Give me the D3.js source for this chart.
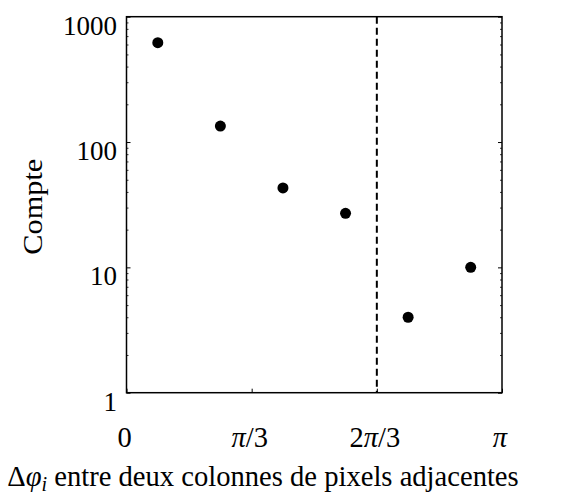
<!DOCTYPE html>
<html>
<head>
<meta charset="utf-8">
<script src="https://cdn.jsdelivr.net/npm/d3@7"></script>
<style>
  html, body { margin: 0; padding: 0; background: #fff; }
  svg { display: block; }
  text { font-family: "Liberation Serif", "DejaVu Serif", serif; fill: #000; }
</style>
</head>
<body>
<svg id="chart" width="582" height="500"></svg>
<script>
// Data (bin centres in radians, counts)
const binCenters = [0.2618, 0.7854, 1.3090, 1.8326, 2.3562, 2.8798];
const counts = [620, 134, 43, 27, 4, 10];
const xTickValues = [0, Math.PI / 3, 2 * Math.PI / 3, Math.PI];
const xTickLabels = ["0", "π/3", "2π/3", "π"];
const yTickValues = [1, 10, 100, 1000];
const yTickLabels = ["1", "10", "100", "1000"];
const thresholdX = 2 * Math.PI / 3;

const svg = d3.select("#chart");
const L = 126.5, R = 502, T = 16.7, B = 392.7;

const x = d3.scaleLinear().domain([0, Math.PI]).range([L, R]);
const y = d3.scaleLog().domain([1, 1000]).range([B, T]);

// minor ticks (2..9 per decade)
const minor = [];
for (let d = 1; d < 1000; d *= 10) for (let k = 2; k <= 9; k++) minor.push(d * k);

const g = svg.append("g");

// left axis ticks (inward)
g.append("g").attr("transform", `translate(${L},0)`)
  .call(d3.axisRight(y).tickValues(minor).tickSize(2).tickFormat(""))
  .call(s => { s.select(".domain").remove(); s.selectAll("line").attr("stroke-width", 0.8); });
g.append("g").attr("transform", `translate(${L},0)`)
  .call(d3.axisRight(y).tickValues(yTickValues).tickSize(4).tickFormat(""))
  .call(s => { s.select(".domain").remove(); s.selectAll("line").attr("stroke-width", 1); });
// right axis ticks (inward)
g.append("g").attr("transform", `translate(${R},0)`)
  .call(d3.axisLeft(y).tickValues(minor).tickSize(2).tickFormat(""))
  .call(s => { s.select(".domain").remove(); s.selectAll("line").attr("stroke-width", 0.8); });
g.append("g").attr("transform", `translate(${R},0)`)
  .call(d3.axisLeft(y).tickValues(yTickValues).tickSize(4).tickFormat(""))
  .call(s => { s.select(".domain").remove(); s.selectAll("line").attr("stroke-width", 1); });
// bottom ticks (inward)
g.append("g").attr("transform", `translate(0,${B})`)
  .call(d3.axisTop(x).tickValues(xTickValues).tickSize(4).tickFormat(""))
  .call(s => { s.select(".domain").remove(); s.selectAll("line").attr("stroke-width", 1); });

// frame
g.append("rect").attr("x", L).attr("y", T).attr("width", R - L).attr("height", B - T)
  .attr("fill", "none").attr("stroke", "#000").attr("stroke-width", 1.5);

// dashed threshold line
g.append("line")
  .attr("x1", x(thresholdX)).attr("x2", x(thresholdX))
  .attr("y1", T).attr("y2", B)
  .attr("stroke", "#000").attr("stroke-width", 2).attr("stroke-dasharray", "7,4");

// points
g.selectAll("circle.pt").data(binCenters).enter().append("circle")
  .attr("class", "pt")
  .attr("cx", d => x(d)).attr("cy", (d, i) => y(counts[i])).attr("r", 5.5)
  .attr("fill", "#000");

// y tick labels
g.selectAll("text.ylab").data(yTickValues).enter().append("text")
  .attr("class", "ylab")
  .attr("x", 117).attr("y", d => y(d) + 18)
  .attr("text-anchor", "end").attr("font-size", 27)
  .text((d, i) => yTickLabels[i]);

// x tick labels
const xl = g.selectAll("text.xlab").data(xTickValues).enter().append("text")
  .attr("class", "xlab")
  .attr("x", d => x(d) - 2).attr("y", 447)
  .attr("text-anchor", "middle").attr("font-size", 28.5);
xl.each(function (d, i) {
  const t = d3.select(this);
  const lab = xTickLabels[i];
  for (const ch of lab) {
    t.append("tspan").attr("font-style", ch === "π" ? "italic" : "normal").text(ch);
  }
});

// y axis title
g.append("text")
  .attr("transform", `translate(42,${(T + B) / 2 + 2}) rotate(-90)`)
  .attr("text-anchor", "middle").attr("font-size", 28)
  .attr("textLength", 96).attr("lengthAdjust", "spacingAndGlyphs")
  .text("Compte");

// x axis title
const xt = g.append("text")
  .attr("x", 263).attr("y", 486)
  .attr("text-anchor", "middle").attr("font-size", 28.6);
xt.append("tspan").text("Δ");
xt.append("tspan").attr("font-style", "italic").text("φ");
xt.append("tspan").attr("font-style", "italic").attr("font-size", 20).attr("dy", 5).text("i");
xt.append("tspan").attr("dy", -5).text(" entre deux colonnes de pixels adjacentes");
</script>
</body>
</html>
